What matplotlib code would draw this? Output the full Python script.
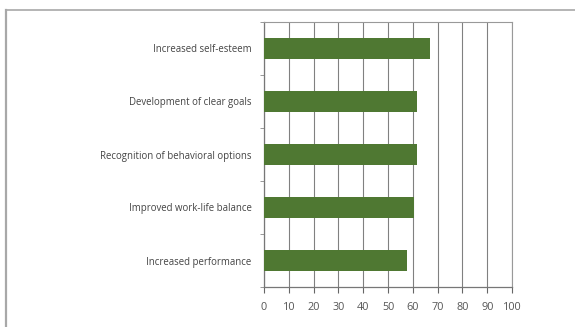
import matplotlib
matplotlib.use("Agg")
import matplotlib.pyplot as plt
from matplotlib.lines import Line2D
import numpy as np

categories = ["Increased self-esteem", "Development of clear goals",
              "Recognition of behavioral options", "Improved work-life balance",
              "Increased performance"]
values = [67, 61.5, 61.8, 60.5, 57.5]
xticks = [0, 10, 20, 30, 40, 50, 60, 70, 80, 90, 100]

plt.rcParams['font.family'] = ['Open Sans', 'DejaVu Sans']

fig = plt.figure(figsize=(5.75, 3.27), dpi=100)
fig.patch.set_facecolor('white')

# outer frame lines
fig.add_artist(Line2D([6/575, 6/575], [0, 1 - 10/327], transform=fig.transFigure,
                      color='#a8a8a8', lw=1.6))
fig.add_artist(Line2D([6/575, 1], [1 - 10/327, 1 - 10/327], transform=fig.transFigure,
                      color='#a8a8a8', lw=1.2))

ax = fig.add_axes([264/575, 1 - 287/327, 248/575, 265/327])
y = np.arange(len(categories))
ax.barh(y, values, height=0.39, color='#4f7832', zorder=3)
ax.set_ylim(len(categories) - 0.5, -0.5)
ax.set_xlim(0, 100)
ax.set_xticks(xticks)
ax.set_xticklabels([str(t) for t in xticks], fontsize=7.8, color='#555555')
ax.set_yticks(y)
ax.set_yticklabels(categories, fontsize=6.9, color='#444444')
ax.set_yticks(np.arange(-0.5, len(categories), 1), minor=True)
ax.tick_params(axis='y', which='major', length=0, pad=9)
ax.tick_params(axis='y', which='minor', length=3, color='#888888', direction='out')
ax.tick_params(axis='x', length=4, color='#666666', pad=7)
ax.grid(axis='x', color='#808080', lw=0.8, zorder=1)
for s in ['left', 'bottom']:
    ax.spines[s].set_color('#777777')
    ax.spines[s].set_linewidth(0.9)
for s in ['top', 'right']:
    ax.spines[s].set_color('#999999')
    ax.spines[s].set_linewidth(0.8)

fig.savefig("out.png", dpi=100)
